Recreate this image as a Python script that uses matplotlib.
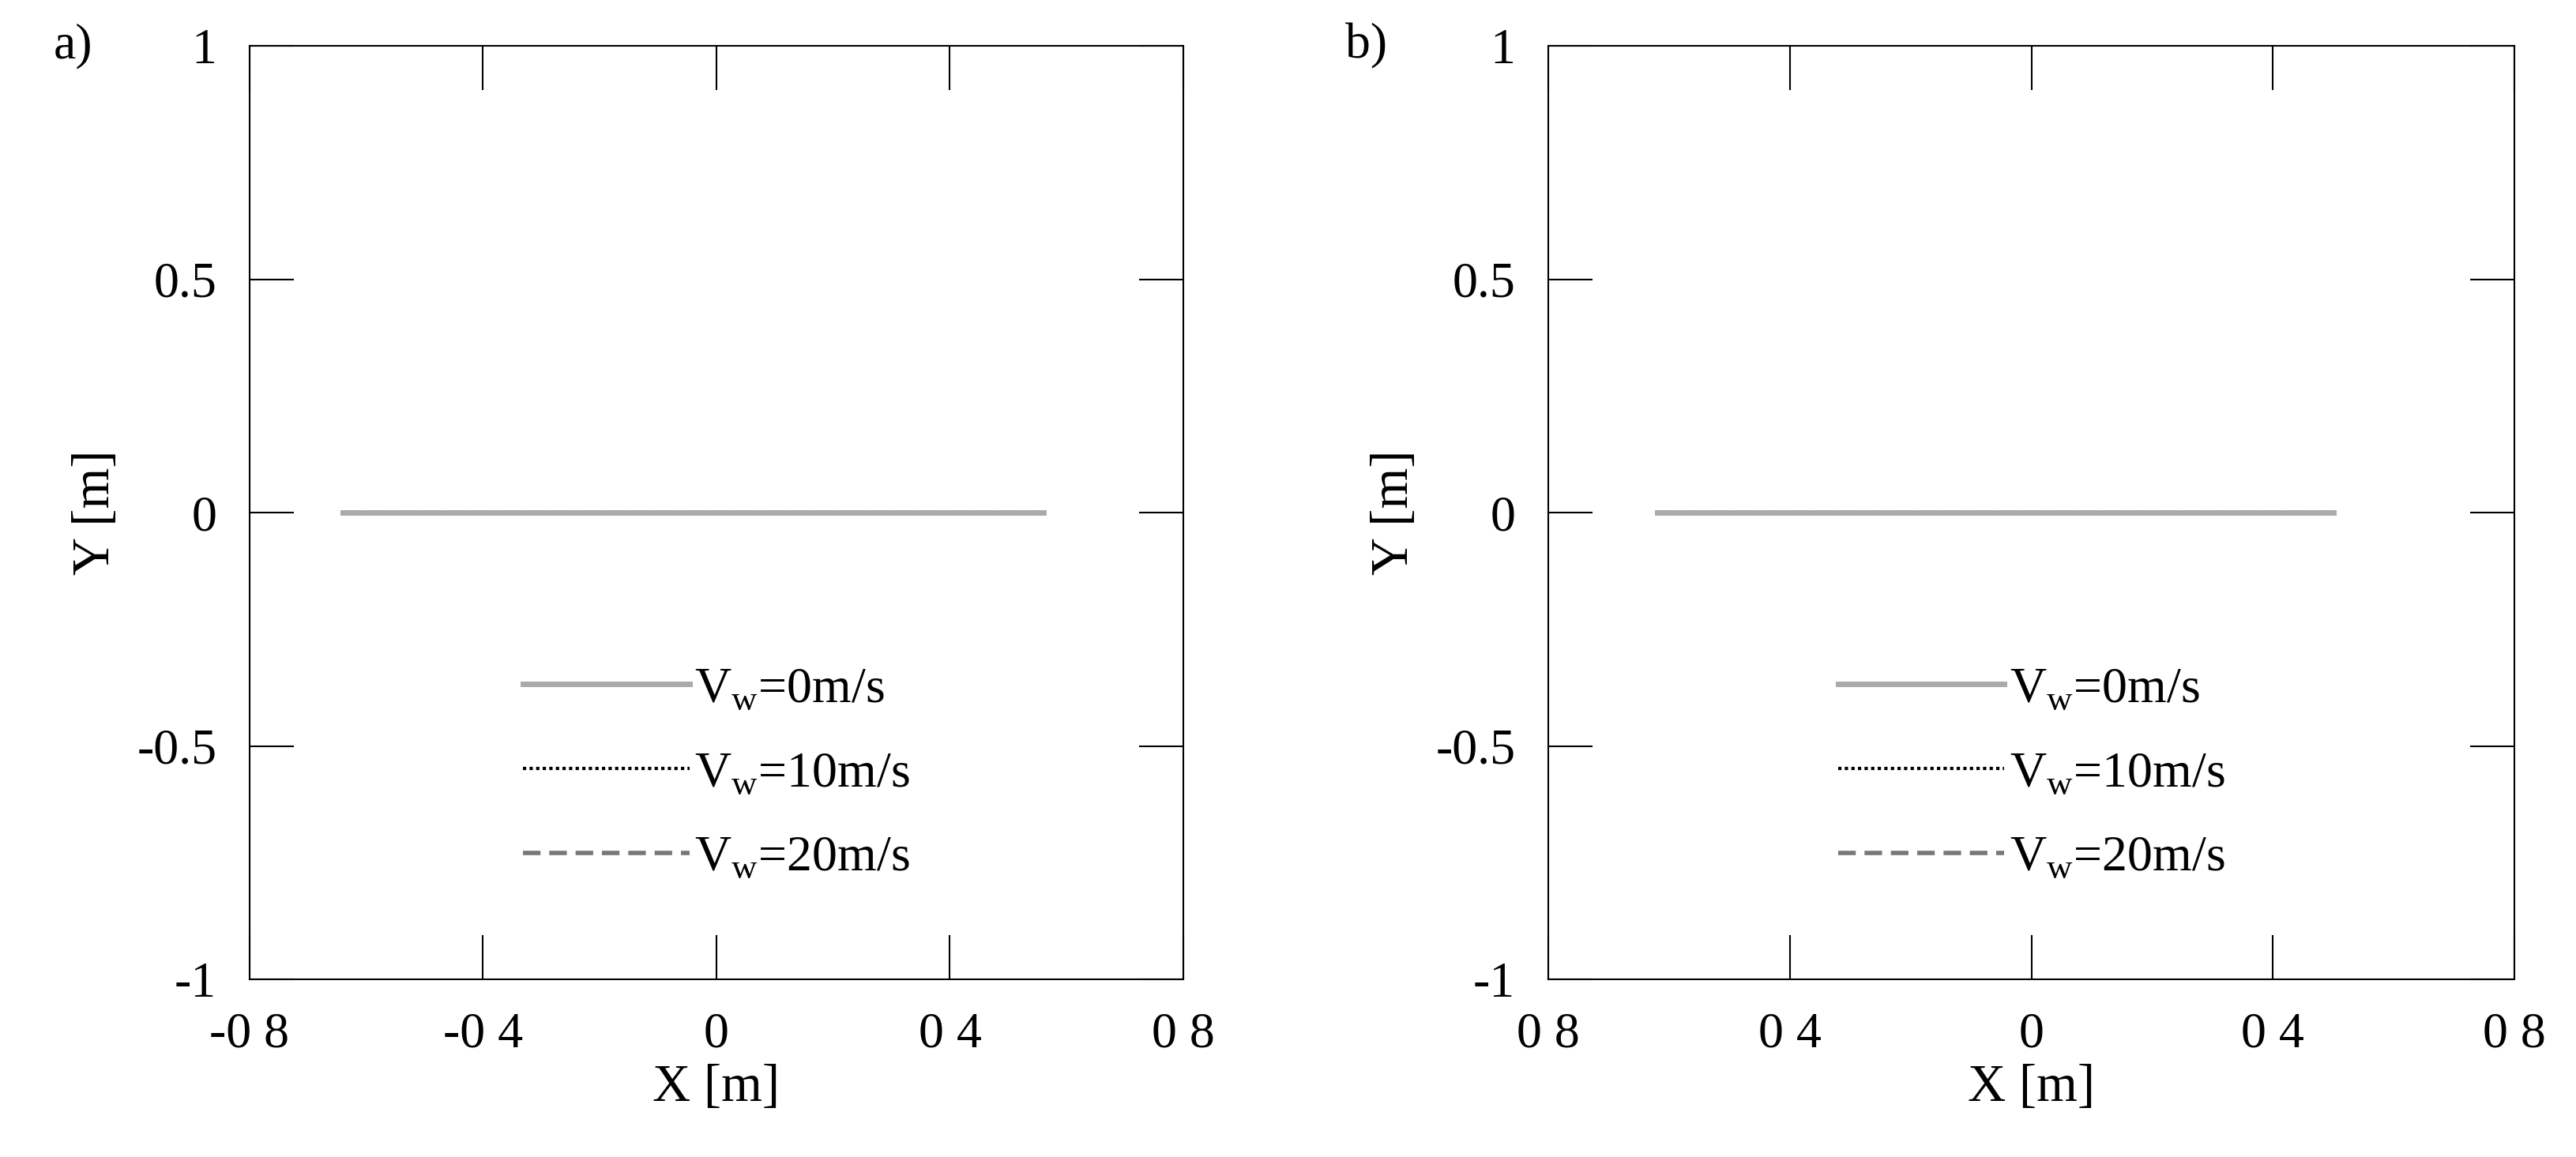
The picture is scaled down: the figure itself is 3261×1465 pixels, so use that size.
import matplotlib.pyplot as plt
import numpy as np

plt.rcParams['font.family'] = ['Liberation Serif', 'DejaVu Serif']
plt.rcParams['mathtext.fontset'] = 'custom'
plt.rcParams['mathtext.rm'] = 'Liberation Serif'

# trajectories (X, Y) for each wind speed
xa_0 = [-0.64, 0.0, 0.56]
ya_0 = [0.0, 0.0, 0.0]
xa_10 = [-0.52, 0.0, 0.51]
ya_10 = [0.0, 0.0, 0.0]
xa_20 = [-0.64, 0.0, 0.56]
ya_20 = [0.0, 0.0, 0.0]

xb_0 = [-0.62, 0.0, 0.50]
yb_0 = [0.0, 0.0, 0.0]
xb_10 = [-0.53, 0.0, 0.50]
yb_10 = [0.0, 0.0, 0.0]
xb_20 = [-0.62, 0.0, 0.50]
yb_20 = [0.0, 0.0, 0.0]

xticks = [-0.8, -0.4, 0, 0.4, 0.8]
xlabels_a = ['-0 8', '-0 4', '0', '0 4', '0 8']
xlabels_b = ['0 8', '0 4', '0', '0 4', '0 8']
yticks = [-1, -0.5, 0, 0.5, 1]
ylabels = ['-1', '-0.5', '0', '0.5', '1']
names = ['V$_\\mathrm{w}$=0m/s', 'V$_\\mathrm{w}$=10m/s', 'V$_\\mathrm{w}$=20m/s']

fig = plt.figure(figsize=(32.62, 14.65), dpi=100)
ax1 = fig.add_axes([316/3262, 1 - 1240/1465, 1182/3262, 1182/1465])
ax2 = fig.add_axes([1960/3262, 1 - 1240/1465, 1223/3262, 1182/1465])

panels = [
    (ax1, xa_0, ya_0, xa_10, ya_10, xa_20, ya_20, xlabels_a, 'a)'),
    (ax2, xb_0, yb_0, xb_10, yb_10, xb_20, yb_20, xlabels_b, 'b)'),
]
for ax, x0, y0, x1, y1, x2, y2, xl, tag in panels:
    ax.plot(x1, y1, color='black', lw=3, ls=(0, (1, 1)), label=names[1], zorder=2)
    ax.plot(x2, y2, color='#777777', lw=4, ls=(0, (4, 2)), label=names[2], zorder=2)
    ax.plot(x0, y0, color='#aaaaaa', lw=5, ls='-', label=names[0], zorder=3)
    ax.set_xlim(-0.8, 0.8)
    ax.set_ylim(-1, 1)
    ax.set_xticks(xticks)
    ax.set_xticklabels(xl)
    ax.set_yticks(yticks)
    ax.set_yticklabels(ylabels)
    ax.tick_params(direction='in', length=40, width=1.5, labelsize=46, pad=30)
    ax.tick_params(top=True, right=True)
    for s in ax.spines.values():
        s.set_linewidth(1.5)
    ax.set_xlabel('X [m]', fontsize=48, labelpad=5)
    ax.set_ylabel('Y [m]', fontsize=48, labelpad=15)
    ax.text(-0.21, 1.0, tag, transform=ax.transAxes, fontsize=46, va='center')
    h, l = ax.get_legend_handles_labels()
    order = [2, 0, 1]
    ax.legend([h[i] for i in order], [l[i] for i in order], loc='center',
              bbox_to_anchor=(0.5, 0.22), frameon=False,
              fontsize=46, handlelength=3.3, labelspacing=0.75, handletextpad=0.1)

fig.savefig('out.png', dpi=100)
